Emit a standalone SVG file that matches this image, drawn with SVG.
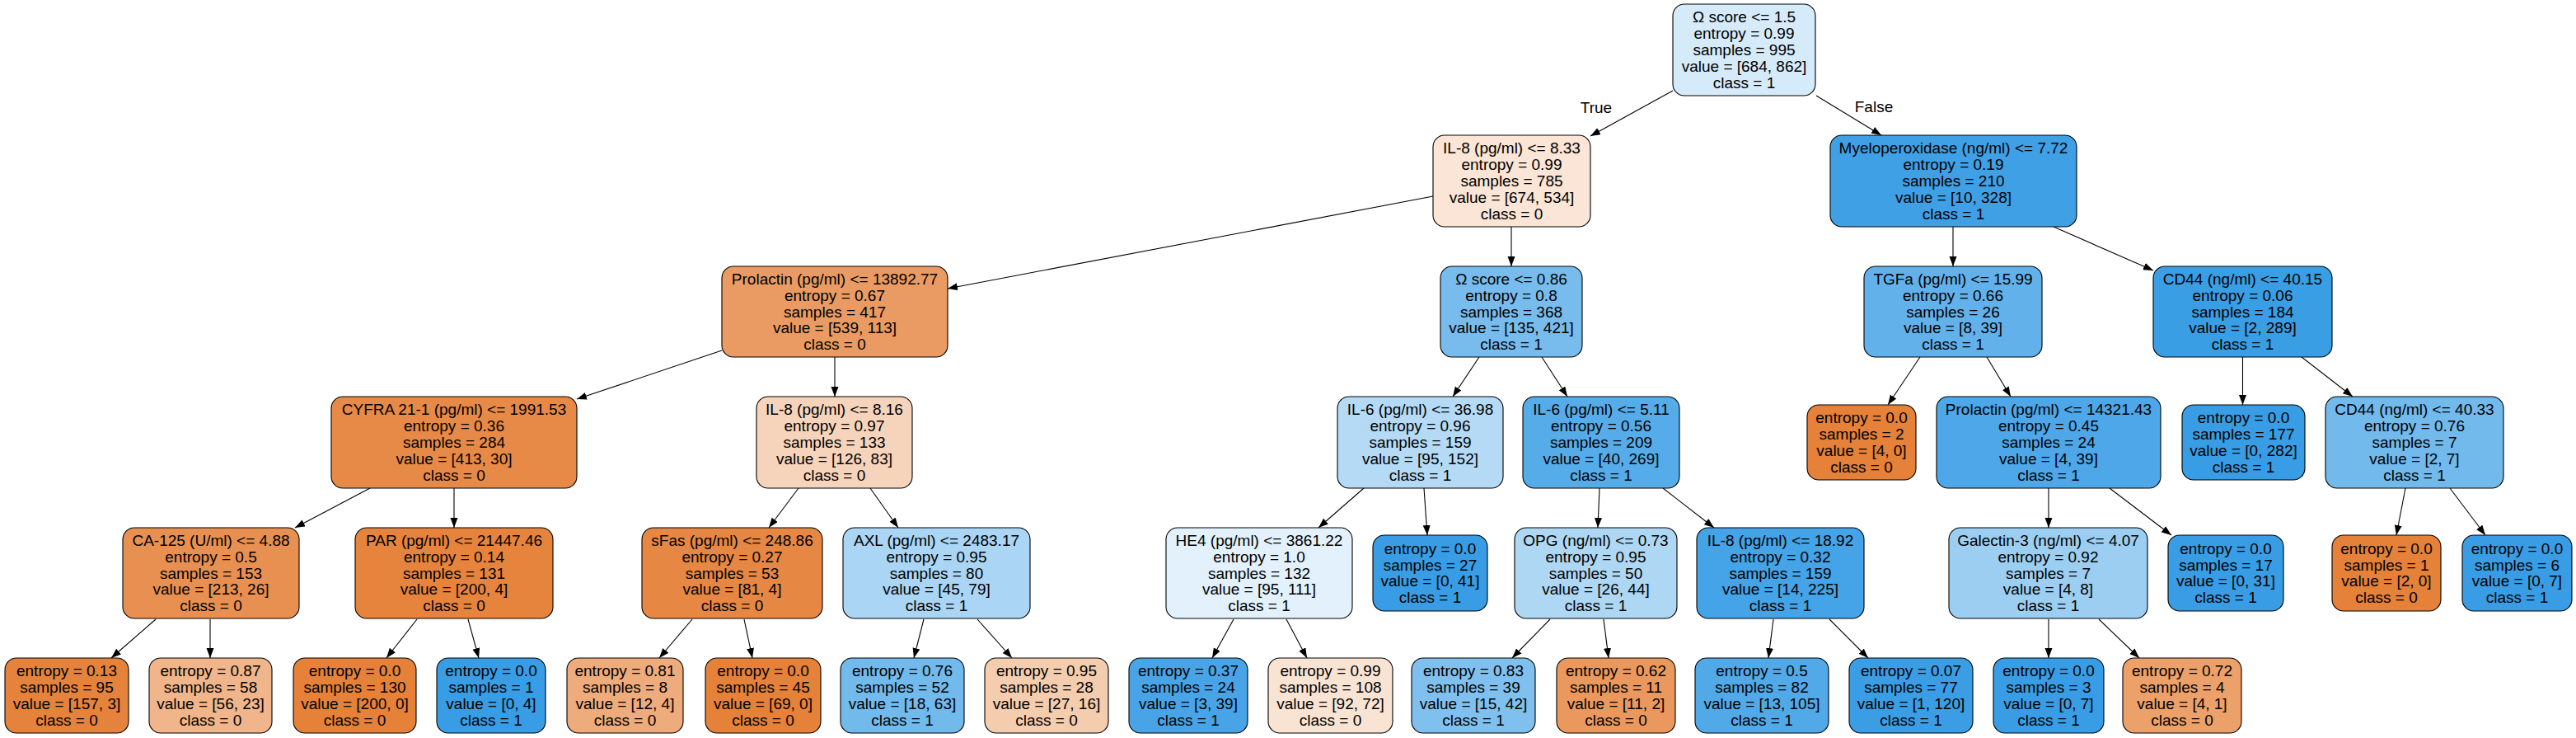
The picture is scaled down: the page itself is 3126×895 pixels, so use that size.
<svg xmlns="http://www.w3.org/2000/svg" width="3126" height="895" viewBox="0 0 3126 895">
<style>
.n{stroke:#000;stroke-width:1.1}
text{font-family:"Liberation Sans",Arial,sans-serif;font-size:19px;fill:#000;text-anchor:middle}
.e line{stroke:#000;stroke-width:1.1;marker-end:url(#ah)}
</style>
<defs>
<marker id="ah" markerUnits="userSpaceOnUse" markerWidth="13" markerHeight="10" refX="12" refY="4.5" orient="auto">
<path d="M0,0 L12,4.5 L0,9 z" fill="#000"/>
</marker>
</defs>
<rect width="3126" height="895" fill="#fff"/>
<g id="edges" class="e">
<line x1="2030" y1="110" x2="1930" y2="165"/>
<line x1="2204" y1="116" x2="2283" y2="164"/>
<line x1="1739" y1="238" x2="1150" y2="350"/>
<line x1="1834" y1="275" x2="1834" y2="323"/>
<line x1="2370" y1="275" x2="2370" y2="323"/>
<line x1="2492" y1="275" x2="2613" y2="328"/>
<line x1="876" y1="425" x2="700" y2="484"/>
<line x1="1013" y1="433" x2="1013" y2="481"/>
<line x1="1795" y1="433" x2="1763" y2="481"/>
<line x1="1871" y1="433" x2="1902" y2="481"/>
<line x1="2330" y1="433" x2="2291" y2="491"/>
<line x1="2411" y1="433" x2="2440" y2="481"/>
<line x1="2721.5" y1="433" x2="2721.5" y2="491"/>
<line x1="2793" y1="433" x2="2855" y2="481"/>
<line x1="449" y1="592" x2="358" y2="640"/>
<line x1="551" y1="592" x2="551" y2="640"/>
<line x1="969" y1="592" x2="933" y2="640"/>
<line x1="1056" y1="592" x2="1090" y2="640"/>
<line x1="1655" y1="592" x2="1600" y2="640"/>
<line x1="1728" y1="592" x2="1732" y2="649"/>
<line x1="1941" y1="592" x2="1939" y2="640"/>
<line x1="2018" y1="592" x2="2080" y2="640"/>
<line x1="2486" y1="592" x2="2486" y2="640"/>
<line x1="2560" y1="592" x2="2635" y2="649"/>
<line x1="2919" y1="592" x2="2908" y2="649"/>
<line x1="2973" y1="592" x2="3016" y2="649"/>
<line x1="189" y1="751" x2="135" y2="798"/>
<line x1="255" y1="751" x2="255" y2="798"/>
<line x1="506" y1="751" x2="469" y2="798"/>
<line x1="568" y1="751" x2="581" y2="798"/>
<line x1="840" y1="751" x2="800" y2="798"/>
<line x1="903" y1="751" x2="913" y2="798"/>
<line x1="1121" y1="751" x2="1109" y2="798"/>
<line x1="1186" y1="751" x2="1228" y2="798"/>
<line x1="1497" y1="751" x2="1471" y2="798"/>
<line x1="1561" y1="751" x2="1586" y2="798"/>
<line x1="1881" y1="751" x2="1835" y2="798"/>
<line x1="1946" y1="751" x2="1952" y2="798"/>
<line x1="2152" y1="751" x2="2146" y2="798"/>
<line x1="2220" y1="751" x2="2267" y2="798"/>
<line x1="2486" y1="751" x2="2486" y2="798"/>
<line x1="2547" y1="751" x2="2596" y2="798"/>
<text x="1937" y="137">True</text>
<text x="2274" y="136">False</text>
</g>
<g id="n0"><rect class="n" x="2030" y="5" width="173" height="111" rx="14" fill="#d6ebfa"/><text x="2116.5" y="27.4">Ω score &lt;= 1.5<tspan x="2116.5" dy="19.8">entropy = 0.99</tspan><tspan x="2116.5" dy="19.8">samples = 995</tspan><tspan x="2116.5" dy="19.8">value = [684, 862]</tspan><tspan x="2116.5" dy="19.8">class = 1</tspan></text></g>
<g id="n1"><rect class="n" x="1739" y="164" width="191" height="111" rx="14" fill="#fae5d6"/><text x="1834.5" y="186.4">IL-8 (pg/ml) &lt;= 8.33<tspan x="1834.5" dy="19.8">entropy = 0.99</tspan><tspan x="1834.5" dy="19.8">samples = 785</tspan><tspan x="1834.5" dy="19.8">value = [674, 534]</tspan><tspan x="1834.5" dy="19.8">class = 0</tspan></text></g>
<g id="n2"><rect class="n" x="2221" y="164" width="299" height="111" rx="14" fill="#3fa0e6"/><text x="2370.5" y="186.4">Myeloperoxidase (ng/ml) &lt;= 7.72<tspan x="2370.5" dy="19.8">entropy = 0.19</tspan><tspan x="2370.5" dy="19.8">samples = 210</tspan><tspan x="2370.5" dy="19.8">value = [10, 328]</tspan><tspan x="2370.5" dy="19.8">class = 1</tspan></text></g>
<g id="n3"><rect class="n" x="876" y="323" width="274" height="110" rx="14" fill="#ea9b63"/><text x="1013" y="344.9">Prolactin (pg/ml) &lt;= 13892.77<tspan x="1013" dy="19.8">entropy = 0.67</tspan><tspan x="1013" dy="19.8">samples = 417</tspan><tspan x="1013" dy="19.8">value = [539, 113]</tspan><tspan x="1013" dy="19.8">class = 0</tspan></text></g>
<g id="n4"><rect class="n" x="1748" y="323" width="172" height="110" rx="14" fill="#78bced"/><text x="1834" y="344.9">Ω score &lt;= 0.86<tspan x="1834" dy="19.8">entropy = 0.8</tspan><tspan x="1834" dy="19.8">samples = 368</tspan><tspan x="1834" dy="19.8">value = [135, 421]</tspan><tspan x="1834" dy="19.8">class = 1</tspan></text></g>
<g id="n5"><rect class="n" x="2262" y="323" width="216" height="110" rx="14" fill="#62b1ea"/><text x="2370" y="344.9">TGFa (pg/ml) &lt;= 15.99<tspan x="2370" dy="19.8">entropy = 0.66</tspan><tspan x="2370" dy="19.8">samples = 26</tspan><tspan x="2370" dy="19.8">value = [8, 39]</tspan><tspan x="2370" dy="19.8">class = 1</tspan></text></g>
<g id="n6"><rect class="n" x="2613" y="323" width="217" height="110" rx="14" fill="#3a9ee5"/><text x="2721.5" y="344.9">CD44 (ng/ml) &lt;= 40.15<tspan x="2721.5" dy="19.8">entropy = 0.06</tspan><tspan x="2721.5" dy="19.8">samples = 184</tspan><tspan x="2721.5" dy="19.8">value = [2, 289]</tspan><tspan x="2721.5" dy="19.8">class = 1</tspan></text></g>
<g id="n7"><rect class="n" x="402" y="481" width="298" height="111" rx="14" fill="#e78a47"/><text x="551" y="503.4">CYFRA 21-1 (pg/ml) &lt;= 1991.53<tspan x="551" dy="19.8">entropy = 0.36</tspan><tspan x="551" dy="19.8">samples = 284</tspan><tspan x="551" dy="19.8">value = [413, 30]</tspan><tspan x="551" dy="19.8">class = 0</tspan></text></g>
<g id="n8"><rect class="n" x="918" y="481" width="189" height="111" rx="14" fill="#f6d4bb"/><text x="1012.5" y="503.4">IL-8 (pg/ml) &lt;= 8.16<tspan x="1012.5" dy="19.8">entropy = 0.97</tspan><tspan x="1012.5" dy="19.8">samples = 133</tspan><tspan x="1012.5" dy="19.8">value = [126, 83]</tspan><tspan x="1012.5" dy="19.8">class = 0</tspan></text></g>
<g id="n9"><rect class="n" x="1623" y="481" width="201" height="111" rx="14" fill="#b5daf5"/><text x="1723.5" y="503.4">IL-6 (pg/ml) &lt;= 36.98<tspan x="1723.5" dy="19.8">entropy = 0.96</tspan><tspan x="1723.5" dy="19.8">samples = 159</tspan><tspan x="1723.5" dy="19.8">value = [95, 152]</tspan><tspan x="1723.5" dy="19.8">class = 1</tspan></text></g>
<g id="n10"><rect class="n" x="1848" y="481" width="190" height="111" rx="14" fill="#56ace9"/><text x="1943" y="503.4">IL-6 (pg/ml) &lt;= 5.11<tspan x="1943" dy="19.8">entropy = 0.56</tspan><tspan x="1943" dy="19.8">samples = 209</tspan><tspan x="1943" dy="19.8">value = [40, 269]</tspan><tspan x="1943" dy="19.8">class = 1</tspan></text></g>
<g id="n11"><rect class="n" x="2193" y="491" width="132" height="91" rx="14" fill="#e58139"/><text x="2259" y="513.3">entropy = 0.0<tspan x="2259" dy="19.8">samples = 2</tspan><tspan x="2259" dy="19.8">value = [4, 0]</tspan><tspan x="2259" dy="19.8">class = 0</tspan></text></g>
<g id="n12"><rect class="n" x="2350" y="481" width="272" height="111" rx="14" fill="#4da7e8"/><text x="2486" y="503.4">Prolactin (pg/ml) &lt;= 14321.43<tspan x="2486" dy="19.8">entropy = 0.45</tspan><tspan x="2486" dy="19.8">samples = 24</tspan><tspan x="2486" dy="19.8">value = [4, 39]</tspan><tspan x="2486" dy="19.8">class = 1</tspan></text></g>
<g id="n13"><rect class="n" x="2648" y="491" width="149" height="91" rx="14" fill="#399de5"/><text x="2722.5" y="513.3">entropy = 0.0<tspan x="2722.5" dy="19.8">samples = 177</tspan><tspan x="2722.5" dy="19.8">value = [0, 282]</tspan><tspan x="2722.5" dy="19.8">class = 1</tspan></text></g>
<g id="n14"><rect class="n" x="2822" y="481" width="216" height="111" rx="14" fill="#72b9ec"/><text x="2930" y="503.4">CD44 (ng/ml) &lt;= 40.33<tspan x="2930" dy="19.8">entropy = 0.76</tspan><tspan x="2930" dy="19.8">samples = 7</tspan><tspan x="2930" dy="19.8">value = [2, 7]</tspan><tspan x="2930" dy="19.8">class = 1</tspan></text></g>
<g id="n15"><rect class="n" x="149" y="640" width="214" height="110" rx="14" fill="#e89051"/><text x="256" y="661.9">CA-125 (U/ml) &lt;= 4.88<tspan x="256" dy="19.8">entropy = 0.5</tspan><tspan x="256" dy="19.8">samples = 153</tspan><tspan x="256" dy="19.8">value = [213, 26]</tspan><tspan x="256" dy="19.8">class = 0</tspan></text></g>
<g id="n16"><rect class="n" x="431" y="640" width="240" height="110" rx="14" fill="#e6843d"/><text x="551" y="661.9">PAR (pg/ml) &lt;= 21447.46<tspan x="551" dy="19.8">entropy = 0.14</tspan><tspan x="551" dy="19.8">samples = 131</tspan><tspan x="551" dy="19.8">value = [200, 4]</tspan><tspan x="551" dy="19.8">class = 0</tspan></text></g>
<g id="n17"><rect class="n" x="779" y="640" width="219" height="110" rx="14" fill="#e68743"/><text x="888.5" y="661.9">sFas (pg/ml) &lt;= 248.86<tspan x="888.5" dy="19.8">entropy = 0.27</tspan><tspan x="888.5" dy="19.8">samples = 53</tspan><tspan x="888.5" dy="19.8">value = [81, 4]</tspan><tspan x="888.5" dy="19.8">class = 0</tspan></text></g>
<g id="n18"><rect class="n" x="1023" y="640" width="227" height="110" rx="14" fill="#aad5f4"/><text x="1136.5" y="661.9">AXL (pg/ml) &lt;= 2483.17<tspan x="1136.5" dy="19.8">entropy = 0.95</tspan><tspan x="1136.5" dy="19.8">samples = 80</tspan><tspan x="1136.5" dy="19.8">value = [45, 79]</tspan><tspan x="1136.5" dy="19.8">class = 1</tspan></text></g>
<g id="n19"><rect class="n" x="1415" y="640" width="226" height="110" rx="14" fill="#e2f1fb"/><text x="1528" y="661.9">HE4 (pg/ml) &lt;= 3861.22<tspan x="1528" dy="19.8">entropy = 1.0</tspan><tspan x="1528" dy="19.8">samples = 132</tspan><tspan x="1528" dy="19.8">value = [95, 111]</tspan><tspan x="1528" dy="19.8">class = 1</tspan></text></g>
<g id="n20"><rect class="n" x="1666" y="649" width="139" height="92" rx="14" fill="#399de5"/><text x="1735.5" y="671.8">entropy = 0.0<tspan x="1735.5" dy="19.8">samples = 27</tspan><tspan x="1735.5" dy="19.8">value = [0, 41]</tspan><tspan x="1735.5" dy="19.8">class = 1</tspan></text></g>
<g id="n21"><rect class="n" x="1838" y="640" width="197" height="110" rx="14" fill="#aed7f4"/><text x="1936.5" y="661.9">OPG (ng/ml) &lt;= 0.73<tspan x="1936.5" dy="19.8">entropy = 0.95</tspan><tspan x="1936.5" dy="19.8">samples = 50</tspan><tspan x="1936.5" dy="19.8">value = [26, 44]</tspan><tspan x="1936.5" dy="19.8">class = 1</tspan></text></g>
<g id="n22"><rect class="n" x="2059" y="640" width="203" height="110" rx="14" fill="#45a3e7"/><text x="2160.5" y="661.9">IL-8 (pg/ml) &lt;= 18.92<tspan x="2160.5" dy="19.8">entropy = 0.32</tspan><tspan x="2160.5" dy="19.8">samples = 159</tspan><tspan x="2160.5" dy="19.8">value = [14, 225]</tspan><tspan x="2160.5" dy="19.8">class = 1</tspan></text></g>
<g id="n23"><rect class="n" x="2365" y="640" width="241" height="110" rx="14" fill="#9ccef2"/><text x="2485.5" y="661.9">Galectin-3 (ng/ml) &lt;= 4.07<tspan x="2485.5" dy="19.8">entropy = 0.92</tspan><tspan x="2485.5" dy="19.8">samples = 7</tspan><tspan x="2485.5" dy="19.8">value = [4, 8]</tspan><tspan x="2485.5" dy="19.8">class = 1</tspan></text></g>
<g id="n24"><rect class="n" x="2631" y="649" width="140" height="92" rx="14" fill="#399de5"/><text x="2701" y="671.8">entropy = 0.0<tspan x="2701" dy="19.8">samples = 17</tspan><tspan x="2701" dy="19.8">value = [0, 31]</tspan><tspan x="2701" dy="19.8">class = 1</tspan></text></g>
<g id="n25"><rect class="n" x="2830" y="649" width="132" height="92" rx="14" fill="#e58139"/><text x="2896" y="671.8">entropy = 0.0<tspan x="2896" dy="19.8">samples = 1</tspan><tspan x="2896" dy="19.8">value = [2, 0]</tspan><tspan x="2896" dy="19.8">class = 0</tspan></text></g>
<g id="n26"><rect class="n" x="2988" y="649" width="133" height="92" rx="14" fill="#399de5"/><text x="3054.5" y="671.8">entropy = 0.0<tspan x="3054.5" dy="19.8">samples = 6</tspan><tspan x="3054.5" dy="19.8">value = [0, 7]</tspan><tspan x="3054.5" dy="19.8">class = 1</tspan></text></g>
<g id="n27"><rect class="n" x="6" y="798" width="150" height="91" rx="14" fill="#e5833d"/><text x="81" y="820.3">entropy = 0.13<tspan x="81" dy="19.8">samples = 95</tspan><tspan x="81" dy="19.8">value = [157, 3]</tspan><tspan x="81" dy="19.8">class = 0</tspan></text></g>
<g id="n28"><rect class="n" x="181" y="798" width="149" height="91" rx="14" fill="#f0b58a"/><text x="255.5" y="820.3">entropy = 0.87<tspan x="255.5" dy="19.8">samples = 58</tspan><tspan x="255.5" dy="19.8">value = [56, 23]</tspan><tspan x="255.5" dy="19.8">class = 0</tspan></text></g>
<g id="n29"><rect class="n" x="356" y="798" width="149" height="91" rx="14" fill="#e58139"/><text x="430.5" y="820.3">entropy = 0.0<tspan x="430.5" dy="19.8">samples = 130</tspan><tspan x="430.5" dy="19.8">value = [200, 0]</tspan><tspan x="430.5" dy="19.8">class = 0</tspan></text></g>
<g id="n30"><rect class="n" x="530" y="798" width="132" height="91" rx="14" fill="#399de5"/><text x="596" y="820.3">entropy = 0.0<tspan x="596" dy="19.8">samples = 1</tspan><tspan x="596" dy="19.8">value = [0, 4]</tspan><tspan x="596" dy="19.8">class = 1</tspan></text></g>
<g id="n31"><rect class="n" x="688" y="798" width="141" height="91" rx="14" fill="#eeab7b"/><text x="758.5" y="820.3">entropy = 0.81<tspan x="758.5" dy="19.8">samples = 8</tspan><tspan x="758.5" dy="19.8">value = [12, 4]</tspan><tspan x="758.5" dy="19.8">class = 0</tspan></text></g>
<g id="n32"><rect class="n" x="856" y="798" width="140" height="91" rx="14" fill="#e58139"/><text x="926" y="820.3">entropy = 0.0<tspan x="926" dy="19.8">samples = 45</tspan><tspan x="926" dy="19.8">value = [69, 0]</tspan><tspan x="926" dy="19.8">class = 0</tspan></text></g>
<g id="n33"><rect class="n" x="1020" y="798" width="150" height="91" rx="14" fill="#72b9ec"/><text x="1095" y="820.3">entropy = 0.76<tspan x="1095" dy="19.8">samples = 52</tspan><tspan x="1095" dy="19.8">value = [18, 63]</tspan><tspan x="1095" dy="19.8">class = 1</tspan></text></g>
<g id="n34"><rect class="n" x="1195" y="798" width="150" height="91" rx="14" fill="#f4ccae"/><text x="1270" y="820.3">entropy = 0.95<tspan x="1270" dy="19.8">samples = 28</tspan><tspan x="1270" dy="19.8">value = [27, 16]</tspan><tspan x="1270" dy="19.8">class = 0</tspan></text></g>
<g id="n35"><rect class="n" x="1370" y="798" width="144" height="91" rx="14" fill="#48a4e7"/><text x="1442" y="820.3">entropy = 0.37<tspan x="1442" dy="19.8">samples = 24</tspan><tspan x="1442" dy="19.8">value = [3, 39]</tspan><tspan x="1442" dy="19.8">class = 1</tspan></text></g>
<g id="n36"><rect class="n" x="1539" y="798" width="151" height="91" rx="14" fill="#f9e4d4"/><text x="1614.5" y="820.3">entropy = 0.99<tspan x="1614.5" dy="19.8">samples = 108</tspan><tspan x="1614.5" dy="19.8">value = [92, 72]</tspan><tspan x="1614.5" dy="19.8">class = 0</tspan></text></g>
<g id="n37"><rect class="n" x="1713" y="798" width="150" height="91" rx="14" fill="#80c0ee"/><text x="1788" y="820.3">entropy = 0.83<tspan x="1788" dy="19.8">samples = 39</tspan><tspan x="1788" dy="19.8">value = [15, 42]</tspan><tspan x="1788" dy="19.8">class = 1</tspan></text></g>
<g id="n38"><rect class="n" x="1889" y="798" width="144" height="91" rx="14" fill="#ea985d"/><text x="1961" y="820.3">entropy = 0.62<tspan x="1961" dy="19.8">samples = 11</tspan><tspan x="1961" dy="19.8">value = [11, 2]</tspan><tspan x="1961" dy="19.8">class = 0</tspan></text></g>
<g id="n39"><rect class="n" x="2057" y="798" width="162" height="91" rx="14" fill="#52a9e8"/><text x="2138" y="820.3">entropy = 0.5<tspan x="2138" dy="19.8">samples = 82</tspan><tspan x="2138" dy="19.8">value = [13, 105]</tspan><tspan x="2138" dy="19.8">class = 1</tspan></text></g>
<g id="n40"><rect class="n" x="2244" y="798" width="150" height="91" rx="14" fill="#3b9ee5"/><text x="2319" y="820.3">entropy = 0.07<tspan x="2319" dy="19.8">samples = 77</tspan><tspan x="2319" dy="19.8">value = [1, 120]</tspan><tspan x="2319" dy="19.8">class = 1</tspan></text></g>
<g id="n41"><rect class="n" x="2419" y="798" width="134" height="91" rx="14" fill="#399de5"/><text x="2486" y="820.3">entropy = 0.0<tspan x="2486" dy="19.8">samples = 3</tspan><tspan x="2486" dy="19.8">value = [0, 7]</tspan><tspan x="2486" dy="19.8">class = 1</tspan></text></g>
<g id="n42"><rect class="n" x="2576" y="798" width="144" height="91" rx="14" fill="#eca06a"/><text x="2648" y="820.3">entropy = 0.72<tspan x="2648" dy="19.8">samples = 4</tspan><tspan x="2648" dy="19.8">value = [4, 1]</tspan><tspan x="2648" dy="19.8">class = 0</tspan></text></g>
</svg>
